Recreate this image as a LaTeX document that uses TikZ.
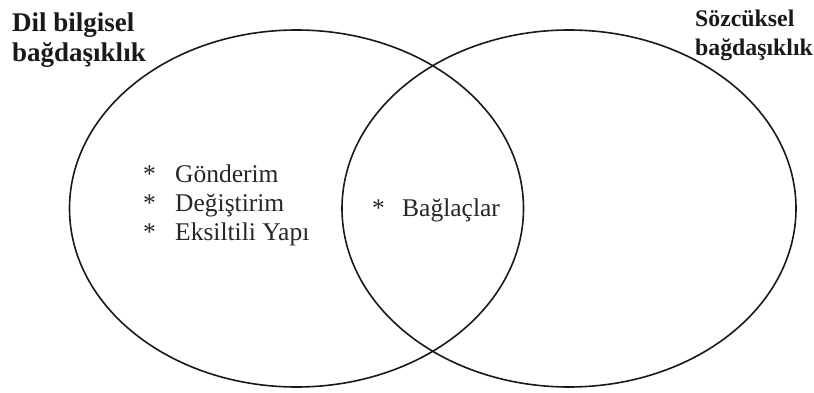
\documentclass[tikz,border=0pt]{standalone}
\usepackage{fontspec}
\setmainfont{Liberation Serif}
\begin{document}
\begin{tikzpicture}[x=1pt,y=1pt,
  circ/.style={draw=black!90, line width=1.6pt},
  titleL/.style={anchor=base west, inner sep=0pt, font=\fontsize{27}{30}\selectfont\bfseries, text=black!90},
  titleR/.style={anchor=base west, inner sep=0pt, font=\fontsize{23.8}{28}\selectfont\bfseries, text=black!90},
  item/.style={anchor=base west, inner sep=0pt, font=\fontsize{25.5}{28}\selectfont, text=black!85}]
\useasboundingbox (0,0) rectangle (814,392);
\draw[circ] (296.5,183.5) ellipse [x radius=227, y radius=178.5];
\draw[circ] (569,183.5) ellipse [x radius=227, y radius=178.5];
\node[titleL] (l1) at (12,360) {Dil bilgisel};
\node[titleL] (l2) at (12,330.5) {bağdaşıklık};
\node[titleR] (r1) at (695,365.3) {Sözcüksel};
\node[titleR] (r2) at (695,337) {bağdaşıklık};
\node[item] (i1) at (143,210) {\makebox[32pt][l]{*}Gönderim};
\node[item] (i2) at (143,181) {\makebox[32pt][l]{*}Değiştirim};
\node[item] (i3) at (143,152) {\makebox[32pt][l]{*}Eksiltili Yapı};
\node[item] (i4) at (372,176) {\makebox[30pt][l]{*}Bağlaçlar};
\end{tikzpicture}
\end{document}
